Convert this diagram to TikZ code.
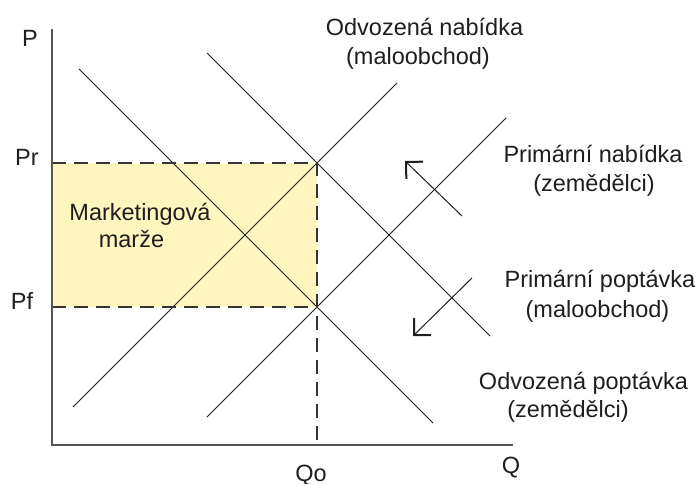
\documentclass[tikz,border=0pt]{standalone}
\usepackage{fontspec}
\setmainfont{Liberation Sans}
\usetikzlibrary{arrows.meta}
\definecolor{margin}{RGB}{255,245,190}
\definecolor{axisc}{RGB}{85,85,85}
\definecolor{ink}{RGB}{30,30,30}
\begin{document}
\begin{tikzpicture}[x=1pt,y=-1pt,
  lbl/.style={anchor=base,inner sep=0pt,font=\fontsize{23.5}{28}\selectfont,text=ink},
  curve/.style={line width=1pt,draw=ink},
  axisline/.style={line width=2pt,draw=axisc},
  guide/.style={line width=2pt,draw=ink!90,dash pattern=on 14pt off 8pt},
  shiftarrow/.style={line width=1pt,draw=ink,-{Straight Barb[angle=90:17pt,line width=2pt]}}]
\useasboundingbox (0,0) rectangle (699,484);
% key points
\coordinate (O) at (52,445);
\coordinate (Ptop) at (52,29);
\coordinate (Qend) at (513,445);
\coordinate (R) at (317,163);
\coordinate (F) at (317,307);
\coordinate (PrA) at (52,163);
\coordinate (PfA) at (52,307);
\coordinate (QoA) at (317,445);
% curve end points
\coordinate (D1a) at (207,53);  \coordinate (D1b) at (490,336);
\coordinate (D2a) at (79,69);   \coordinate (D2b) at (433,423);
\coordinate (S1a) at (207,417); \coordinate (S1b) at (506,118);
\coordinate (S2a) at (73,407);  \coordinate (S2b) at (397,83);
\coordinate (A1s) at (462,216); \coordinate (A1e) at (405,161);
\coordinate (A2s) at (472,278); \coordinate (A2e) at (413,336);
% margin area
\fill[margin] (PrA) rectangle (F);
% curves
\draw[curve] (D1a) -- (D1b);
\draw[curve] (D2a) -- (D2b);
\draw[curve] (S1a) -- (S1b);
\draw[curve] (S2a) -- (S2b);
% guides
\draw[guide] (PrA) -- (R) -- (QoA);
\draw[guide] (PfA) -- (F);
% axes
\draw[axisline] (Ptop) -- (O) -- (Qend);
% shift arrows
\draw[shiftarrow] (A1s) -- (A1e);
\draw[shiftarrow] (A2s) -- (A2e);
% labels
\node[lbl] (lP) at (30,47) {P};
\node[lbl] (lPr) at (27,165) {Pr};
\node[lbl] (lPf) at (22,309) {Pf};
\node[lbl] (lQo) at (311,481) {Qo};
\node[lbl] (lQ) at (511,473) {Q};
\node[lbl] (lm1) at (140,220) {Marketingová};
\node[lbl] (lm2) at (131.5,247) {marže};
\node[lbl] (on1) at (424.5,36) {Odvozená nabídka};
\node[lbl] (on2) at (418,65) {(maloobchod)};
\node[lbl] (pn1) at (593,163) {Primární nabídka};
\node[lbl] (pn2) at (594,192) {(zemědělci)};
\node[lbl] (pp1) at (600,287) {Primární poptávka};
\node[lbl] (pp2) at (597.5,317) {(maloobchod)};
\node[lbl] (op1) at (583.5,389) {Odvozená poptávka};
\node[lbl] (op2) at (568,417) {(zemědělci)};
\end{tikzpicture}
\end{document}
